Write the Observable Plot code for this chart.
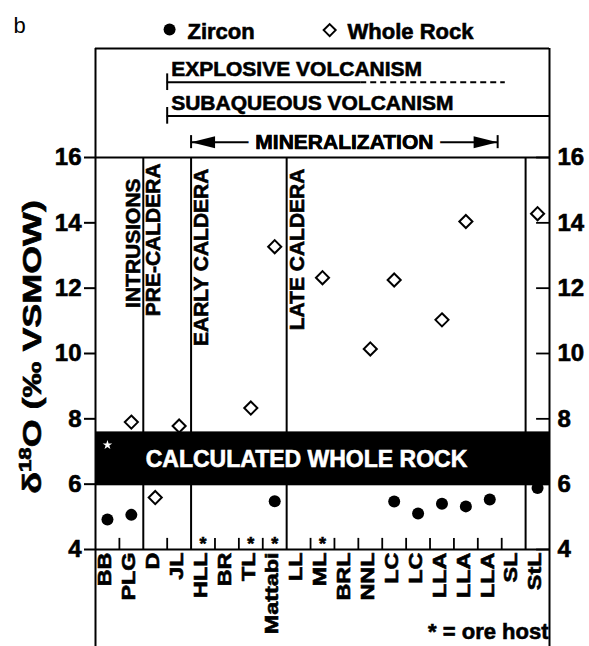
<!DOCTYPE html>
<html><head><meta charset="utf-8">
<script src="https://cdn.jsdelivr.net/npm/d3@7"></script>
<script src="https://cdn.jsdelivr.net/npm/@observablehq/plot@0.6"></script>
<style>body{margin:0;background:#fff;}</style>
</head><body><div id="chart"></div>
<script>
// ---------- data ----------
const categories = ["BB","PLG","D","JL","HLL","BR","TL","Mattabi","LL","ML","BRL","NNL","LC","LC","LLA","LLA","LLA","SL","StL"];
const zirconIndex = [0, 1, 7, 12, 13, 14, 15, 16, 18];
const zirconO18   = [4.92, 5.06, 5.48, 5.47, 5.10, 5.40, 5.32, 5.53, 5.88];
const wholeRockIndex = [1, 2, 3, 6, 7, 9, 11, 12, 14, 15, 18];
const wholeRockO18   = [7.90, 5.59, 7.78, 8.33, 13.27, 12.32, 10.14, 12.25, 11.03, 14.04, 14.28];
const calcWholeRockIndex = [0];
const calcWholeRockO18 = [7.2];
const calcWholeRockRange = [5.95, 7.6];
const oreHostIndex = [4, 6, 7, 9];
const periodNames = ["INTRUSIONS", "PRE-CALDERA", "EARLY CALDERA", "LATE CALDERA"];
const periodDividers = [1.5, 3.5, 7.5, 17.5];
const yTicks = [4, 6, 8, 10, 12, 14, 16];
const legendLabels = ["Zircon", "Whole Rock"];
const volcanismNames = ["EXPLOSIVE VOLCANISM", "SUBAQUEOUS VOLCANISM"];
const volcanismStart = [2.5, 2.5];
const volcanismSolidEnd = [10.6, 18.5];
const volcanismEnd = [16.65, 18.5];
const mineralization = {label: "MINERALIZATION", start: 3.5, end: 16.33};

// ---------- layout ----------
const xMin = -0.5, xMax = 18.5;
const ROW = {boxTop: 19.34, bottom: 0.9, explosive: 18.30, subaqueous: 17.27, mineral: 16.47, legend: 19.64};
const volRows = [ROW.explosive, ROW.subaqueous];
const periodAt = [1.5, 1.5, 3.5, 7.5];
const periodTop = [15.36, 15.82, 15.66, 15.66];
const boundaryTicks = d3.range(0.5, 17, 1).filter(b => !periodDividers.includes(b));
const font = "'Liberation Sans', Arial, Helvetica, sans-serif";
const B = "bold";

const arrowLeft = {draw(ctx) { ctx.moveTo(0, 0); ctx.lineTo(24, -6); ctx.lineTo(24, 6); ctx.closePath(); }};
const arrowRight = {draw(ctx) { ctx.moveTo(0, 0); ctx.lineTo(-24, -6); ctx.lineTo(-24, 6); ctx.closePath(); }};

const vol = volcanismNames.map((name, i) => ({name, start: volcanismStart[i], solidEnd: volcanismSolidEnd[i], end: volcanismEnd[i], row: volRows[i]}));

const svg = Plot.plot({
  width: 589, height: 646,
  marginTop: 157, marginBottom: 97, marginLeft: 95, marginRight: 40,
  style: {fontFamily: font, color: "black", background: "white"},
  x: {type: "linear", domain: [xMin, xMax], axis: null},
  y: {domain: [4, 16], axis: null},
  marks: [
    // header: legend and panel letter
    Plot.text(["b"], {x: -3.93, y: 19.8, fontSize: 22, fontWeight: "normal", textAnchor: "start", lineAnchor: "bottom", ariaDescription: "panel"}),
    Plot.dot([2.6], {x: d => d, y: 19.92, r: 6, fill: "black"}),
    Plot.dot([9.3], {x: d => d, y: 19.9, r: 5.4, symbol: "diamond2", stroke: "black", strokeWidth: 2, fill: "none"}),
    Plot.text(legendLabels, {x: (d, i) => [3.35, 10.05][i], y: ROW.legend, text: d => d, fontSize: 22, fontWeight: B, textAnchor: "start", lineAnchor: "bottom"}),

    // volcanism bars
    Plot.ruleY(vol, {y: "row", x1: "start", x2: "solidEnd", strokeWidth: 2}),
    Plot.ruleY(vol.filter(d => d.end > d.solidEnd), {y: "row", x1: "solidEnd", x2: "end", strokeWidth: 2, strokeDasharray: "6,4"}),
    Plot.ruleX(vol, {x: "start", y1: d => d.row - 0.25, y2: d => d.row + 0.26, strokeWidth: 2}),
    Plot.text(vol, {x: "start", y: d => d.row + 0.18, text: "name", textAnchor: "start", lineAnchor: "bottom", dx: 4, fontSize: 21, fontWeight: B}),

    // mineralization arrow
    Plot.ruleY([mineralization], {y: ROW.mineral, x1: "start", x2: "end", strokeWidth: 2}),
    Plot.ruleX([mineralization.start, mineralization.end], {x: d => d, y1: ROW.mineral - 0.2, y2: ROW.mineral + 0.2, strokeWidth: 2}),
    Plot.dot([mineralization.start], {x: d => d, y: ROW.mineral, symbol: arrowLeft, fill: "black", stroke: "none"}),
    Plot.dot([mineralization.end], {x: d => d, y: ROW.mineral, symbol: arrowRight, fill: "black", stroke: "none"}),
    Plot.text([mineralization], {x: d => (d.start + d.end) / 2, y: ROW.mineral, text: "label", fontSize: 21, fontWeight: B, lineAnchor: "middle", stroke: "white", strokeWidth: 16, paintOrder: "stroke", fill: "black", ariaDescription: "halo"}),
    Plot.text([mineralization], {x: d => (d.start + d.end) / 2, y: ROW.mineral, text: "label", fontSize: 21, fontWeight: B, lineAnchor: "middle", fill: "black"}),

    // period dividers and labels
    Plot.ruleX(periodDividers, {x: d => d, y1: 4, y2: 16, strokeWidth: 2}),
    Plot.text(periodNames, {x: (d, i) => periodAt[i], y: (d, i) => periodTop[i], text: d => d, rotate: -90, textAnchor: "end",
      lineAnchor: "top", dx: 2, fontSize: 21, fontWeight: B, filter: (d, i) => i > 0}),
    Plot.text(periodNames.slice(0, 1), {x: periodAt[0], y: periodTop[0], text: d => d, rotate: -90, textAnchor: "end",
      lineAnchor: "bottom", dx: -3, fontSize: 21, fontWeight: B}),

    // calculated whole rock band
    Plot.rect([calcWholeRockRange], {x1: xMin, x2: xMax, y1: d => d[0], y2: d => d[1], fill: "black"}),
    Plot.text(["CALCULATED WHOLE ROCK"], {x: 8.33, y: 6.74, text: d => d, fill: "white", fontSize: 23, fontWeight: B, lineAnchor: "middle", ariaDescription: "white"}),

    // data
    Plot.dot(zirconIndex, {x: d => d, y: (d, i) => zirconO18[i], r: 6, fill: "black"}),
    Plot.dot(wholeRockIndex, {x: d => d, y: (d, i) => wholeRockO18[i], r: 5.9, symbol: "diamond2", stroke: "black", strokeWidth: 2, fill: "none"}),
    Plot.dot(calcWholeRockIndex, {x: d => d, y: (d, i) => calcWholeRockO18[i], r: 3, symbol: "star", fill: "white"}),

    // ore host asterisks
    Plot.text(oreHostIndex, {x: d => d, y: 4, text: () => "*", fontSize: 18, fontWeight: B, lineAnchor: "bottom"}),

    // x ticks at boundaries (inward)
    Plot.ruleX(boundaryTicks, {x: d => d, y1: 4, y2: 4.34, strokeWidth: 1.8}),
    // right inward y ticks
    Plot.ruleY(yTicks, {y: d => d, x1: xMax, x2: xMax - 0.54, strokeWidth: 1.8}),

    // y axes
    Plot.axisY({anchor: "left", ticks: yTicks, tickSize: 11, tickPadding: 3, fontSize: 24, fontWeight: B, label: null, strokeWidth: 2}),
    Plot.axisY({anchor: "right", ticks: yTicks, tickSize: 0, tickPadding: 8, fontSize: 24, fontWeight: B, label: null}),

    // category labels
    Plot.text(categories, {x: (d, i) => i, y: 4, text: d => d, rotate: -90, textAnchor: "end", lineAnchor: "middle",
      dx: -2, dy: 3, fontSize: 18, fontWeight: B, ariaDescription: "xlab"}),

    // y title
    Plot.text(["δ18O (‰ VSMOW)"], {x: -3.14, y: 10.2, text: d => d, rotate: -90, fontSize: 26, fontWeight: B, lineAnchor: "middle", ariaDescription: "ylab"}),

    // footnote
    Plot.text(["* = ore host"], {x: xMax, y: 1.25, text: d => d, textAnchor: "end", lineAnchor: "bottom", dx: -1, fontSize: 22, fontWeight: B}),

    // frame
    Plot.ruleX([xMin, xMax], {x: d => d, y1: ROW.bottom, y2: ROW.boxTop, strokeWidth: 2}),
    Plot.ruleY([ROW.boxTop, 16, 4], {y: d => d, x1: xMin, x2: xMax, strokeWidth: 2})
  ]
});
document.getElementById("chart").append(svg);

// all text bold (heavy) except the panel letter
svg.querySelectorAll("text").forEach(t => {
  if (t.closest('g[aria-description="panel"]') || t.closest('g[aria-description="halo"]')) return;
  t.style.fontWeight = "bold";
  const white = t.closest('g[aria-description="white"]');
  t.style.stroke = white ? "white" : "black";
  t.style.strokeWidth = "0.6px";
});

function stretch(sel, sx) {
  svg.querySelectorAll(sel).forEach(t => {
    const tr = t.getAttribute("transform");
    if (tr) t.setAttribute("transform", tr + ` scale(${sx},1)`);
  });
}
stretch('g[aria-description="xlab"] text', 1.3);
const yl = svg.querySelector('g[aria-description="ylab"] text');
if (yl) {
  yl.innerHTML = 'δ<tspan font-size="0.62em" dy="-10">18</tspan><tspan dy="10">O (‰ VSMOW)</tspan>';
}
stretch('g[aria-description="ylab"] text', 1.38);
</script>
</body></html>
